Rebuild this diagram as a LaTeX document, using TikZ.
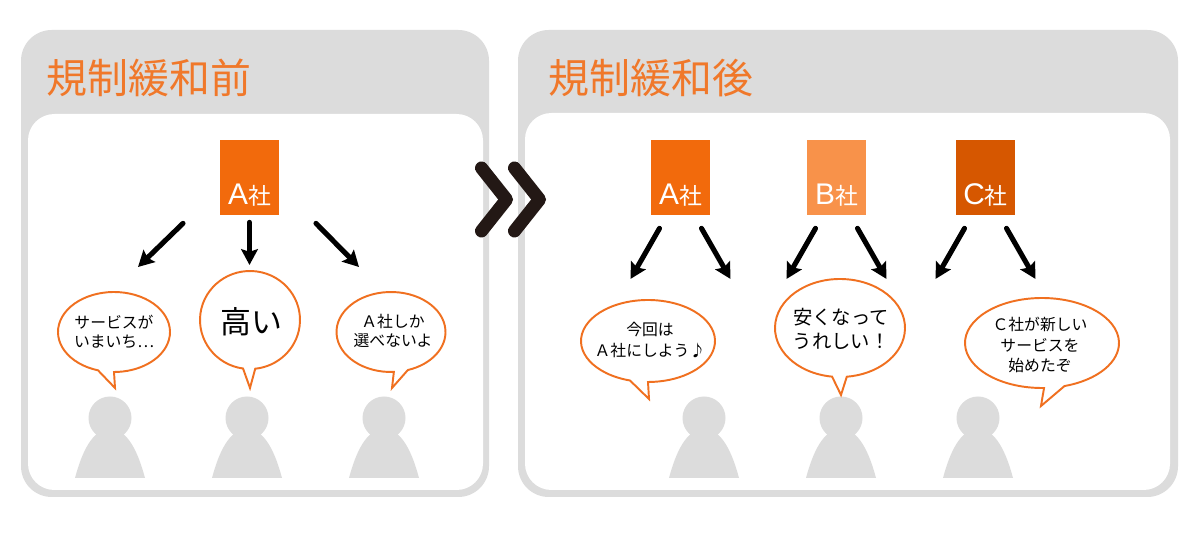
\documentclass[tikz,border=0pt]{standalone}
\usepackage{fontspec}
\setmainfont{Noto Sans CJK JP}
\newfontfamily\latinfont{Liberation Sans}
\usepackage{tikz}
\usetikzlibrary{positioning}
\usetikzlibrary{arrows.meta}
\definecolor{panelgray}{HTML}{DCDCDC}
\definecolor{titleorange}{HTML}{F0782A}
\definecolor{bubbleorange}{HTML}{F07020}
\definecolor{compA}{HTML}{F26A0C}
\definecolor{compB}{HTML}{F8924A}
\definecolor{compC}{HTML}{D65700}
\definecolor{chevron}{HTML}{231815}
\tikzset{
  panel/.style={fill=panelgray, rounded corners=17.5pt},
  innerpanel/.style={fill=white, rounded corners=15pt},
  title/.style={text=titleorange, inner sep=0pt, anchor=west, font=\fontsize{23.3}{28}\selectfont},
  company/.style={minimum width=33.6pt, minimum height=42.7pt, inner sep=0pt},
  compname/.style={text=white, inner sep=0pt, anchor=base, font=\fontsize{13}{13}\selectfont},
  arr/.style={line width=2.9pt, line cap=round, -{Stealth[length=9pt,width=9.5pt,inset=1.5pt]}},
  chev/.style={draw=chevron, line width=7.4pt, line cap=round, line join=round},
  bubble/.style={draw=bubbleorange, line width=1.1pt, fill=white, line join=miter},
  say/.style={align=center, inner sep=0pt, font=\fontsize{9}{11.5}\selectfont},
  person/.style={fill=panelgray},
}
% cx, cy, rx, ry, tail angles, tail tip
\newcommand{\bubble}[8]{%
  \draw[bubble] ({#1+#3*cos(#5)},{#2+#4*sin(#5)}) arc[start angle=#5, end angle=#6+360, x radius=#3, y radius=#4] -- (#7,#8) -- cycle;
}
\begin{document}
\begin{tikzpicture}[x=0.02cm,y=-0.02cm]
\fill[white] (0,0) rectangle (1200,536);
\useasboundingbox (0,0) rectangle (1200,536);
% panels
\fill[panel] (21,30) rectangle (489,497);
\fill[innerpanel] (28,114) rectangle (483,490);
\fill[panel] (518,30) rectangle (1178,497);
\fill[innerpanel] (525,113) rectangle (1170,490);
\node[title] (titleL) at (46.5,78) {規制緩和前};
\node[title] (titleR) at (548.5,78) {規制緩和後};
% chevrons
\draw[chev] (481.5,168) -- (506.5,199.5) -- (481.5,231);
\draw[chev] (514.5,168) -- (539.5,199.5) -- (514.5,231);
% people
\foreach \hx in {110,247,384,704,841,978} {
  \fill[person] (\hx,418) circle (21.5);
  \fill[person] (\hx-35,478) .. controls (\hx-28,452) and (\hx-18,430) .. (\hx,428)
    .. controls (\hx+18,430) and (\hx+28,452) .. (\hx+35,478) -- cycle;
}
% before
\node[company, fill=compA] (boxL) at (249.5,177.5) {};
\node[compname] (nameL) at ([yshift=6.3pt]boxL.south) {{\latinfont\fontsize{17}{17}\selectfont A}社};
\coordinate (tL1) at (138,267);
\coordinate (tL2) at (249.5,265);
\coordinate (tL3) at (359,267);
\draw[arr] ([shift={(-66.5,8)}]boxL.south) -- (tL1);
\draw[arr] ([shift={(0,7)}]boxL.south) -- (tL2);
\draw[arr] ([shift={(66.5,8)}]boxL.south) -- (tL3);
\bubble{114}{332}{56}{40}{106.6}{90}{115}{388}
\bubble{250}{320}{50}{49}{98}{84}{250}{388}
\bubble{391}{332}{54.5}{40}{87}{72}{392}{388}
\node[say, font=\fontsize{9}{10.5}\selectfont] (sayL1) at (114,332) {サービスが\\いまいち…};
\node[say, font=\fontsize{17.6}{20}\selectfont] (sayL2) at (251,322) {高い};
\node[say, font=\fontsize{9}{10.5}\selectfont] (sayL3) at (393,331) {Ａ社しか\\選べないよ};
% after
\foreach \co/\cx in {A/680.5,B/836.5,C/985.5} {
  \node[company, fill=comp\co] (box\co) at (\cx,177.5) {};
  \node[compname] (name\co) at ([yshift=6.3pt]box\co.south) {{\latinfont\fontsize{17}{17}\selectfont \co}社};
  \coordinate (t\co1) at (\cx-50,279);
  \coordinate (t\co2) at (\cx+50,279);
  \draw[arr] ([shift={(-21,13)}]box\co.south) -- (t\co1);
  \draw[arr] ([shift={(21,13)}]box\co.south) -- (t\co2);
}
\bubble{648}{341}{67}{41}{105.6}{90}{649}{399}
\bubble{840}{328}{65}{49}{97}{84}{841}{395}
\bubble{1042}{343}{77}{45}{88.5}{73}{1041}{406}
\node[say] (sayR1) at (650,340) {今回は\\Ａ社にしよう♪};
\node[say, font=\fontsize{11}{13.7}\selectfont] (sayR2) at (841,329) {安くなって\\うれしい！};
\node[say] (sayR3) at (1040,345) {Ｃ社が新しい\\サービスを\\始めたぞ};
\end{tikzpicture}
\end{document}
